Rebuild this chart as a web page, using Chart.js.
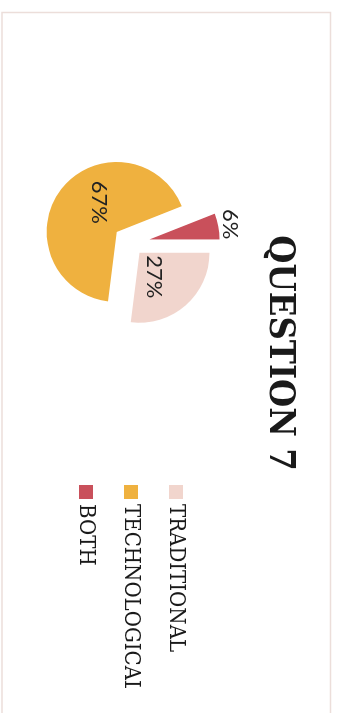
<!DOCTYPE html>
<html>
<head>
<meta charset="utf-8">
<script src="https://cdn.jsdelivr.net/npm/chart.js@4/dist/chart.umd.min.js"></script>
<style>
  html, body { margin: 0; padding: 0; background: #ffffff; }
  body { width: 341px; height: 713px; overflow: hidden; position: relative; }
  /* The card is laid out landscape and turned a quarter clockwise onto the page */
  #card {
    position: absolute; left: 0; top: 0;
    width: 713px; height: 341px;
    transform-origin: 0 0;
    transform: translate(341px, 0) rotate(90deg);
  }
  #card canvas { display: block; }
</style>
</head>
<body>
<div id="card"><canvas id="chart" width="713" height="341"></canvas></div>
<script>
// Survey answers for question 7
const titleText = 'QUESTION 7';
const categories = ['TRADITIONAL', 'TECHNOLOGICAL', 'BOTH'];
const shares = [27, 67, 6];
const sliceColors = ['#f1d5cd', '#efb13f', '#c9505b'];

// How far each slice is pulled out from the centre (px)
const explodeBy = [13, 18, 19];

// Frame around the card
const framePlugin = {
  id: 'frame',
  beforeDraw(chart) {
    const ctx = chart.ctx;
    ctx.save();
    ctx.fillStyle = '#ffffff';
    ctx.fillRect(0, 0, chart.width, chart.height);
    ctx.strokeStyle = '#ecdeda';
    ctx.lineWidth = 1.5;
    ctx.strokeRect(12.5, 10.5, chart.width + 20, 328.5);
    ctx.restore();
  }
};

// Pull slices outwards along their middle angle
const explodePlugin = {
  id: 'explode',
  beforeDatasetDraw(chart, args) {
    args.meta.data.forEach((arc, i) => {
      if (arc.__exploded) return;
      const baseDraw = arc.draw;
      arc.draw = function (ctx, area) {
        const d = explodeBy[i] || 0;
        const mid = (this.startAngle + this.endAngle) / 2;
        ctx.save();
        ctx.translate(Math.cos(mid) * d, Math.sin(mid) * d);
        baseDraw.call(this, ctx, area);
        ctx.restore();
      };
      arc.__exploded = true;
    });
  }
};

// Percentage labels on / beside the slices
const pctLabelPlugin = {
  id: 'pctLabels',
  afterDatasetsDraw(chart, args, opts) {
    const ctx = chart.ctx;
    const meta = chart.getDatasetMeta(0);
    ctx.save();
    ctx.font = opts.font;
    ctx.fillStyle = opts.color;
    ctx.textAlign = 'center';
    ctx.textBaseline = 'middle';
    meta.data.forEach((arc, i) => {
      const p = arc.getProps(['x', 'y', 'startAngle', 'endAngle', 'outerRadius'], true);
      const mid = (p.startAngle + p.endAngle) / 2;
      const cx = p.x + Math.cos(mid) * explodeBy[i];
      const cy = p.y + Math.sin(mid) * explodeBy[i];
      const a = mid + (opts.turn[i] || 0) * Math.PI / 180;
      const r = p.outerRadius * opts.radial[i];
      ctx.fillText(shares[i] + '%', cx + Math.cos(a) * r, cy + Math.sin(a) * r);
    });
    ctx.restore();
  }
};

new Chart(document.getElementById('chart'), {
  type: 'pie',
  data: {
    labels: categories,
    datasets: [{
      data: shares,
      backgroundColor: sliceColors,
      borderWidth: 0,
      radius: 70
    }]
  },
  options: {
    responsive: false,
    animation: false,
    events: [],
    layout: { padding: { left: 18, right: 25, top: 0, bottom: 4 } },
    plugins: {
      tooltip: { enabled: false },
      title: {
        display: true,
        text: titleText,
        color: '#1a1a1a',
        font: { family: "'DejaVu Serif Condensed', 'Liberation Serif', serif", size: 36, weight: 'bold' },
        padding: { top: 40, bottom: 0 }
      },
      legend: {
        position: 'right',
        align: 'center',
        fullSize: false,
        maxWidth: 220,
        labels: {
          color: '#1a1a1a',
          font: { family: "'DejaVu Serif Condensed', 'Liberation Serif', serif", size: 22 },
          usePointStyle: true,
          pointStyle: 'rect',
          boxWidth: 2,
          boxHeight: 14,
          padding: 23
        }
      },
      pctLabels: {
        font: "22px Lato, 'Liberation Sans', sans-serif",
        color: '#222222',
        turn: [11, 22, 0],
        radial: [0.40, 0.49, 1.17]
      }
    }
  },
  plugins: [framePlugin, explodePlugin, pctLabelPlugin]
});
</script>
</body>
</html>
